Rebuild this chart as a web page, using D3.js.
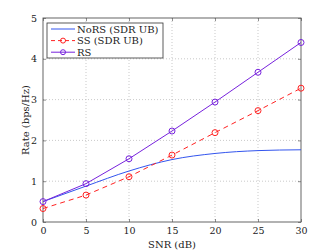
<!DOCTYPE html>
<html>
<head>
<meta charset="utf-8">
<script src="https://cdn.jsdelivr.net/npm/d3@7"></script>
<style>
  body { margin: 0; background: #fff; }
  text { font-family: "DejaVu Serif", "Liberation Serif", serif; fill: #222; }
  .grid line { stroke: #bbb; stroke-dasharray: 1,2; stroke-width: 0.8; }
</style>
</head>
<body>
<div id="chart"></div>
<script>
// SNR values (dB)
let snr = [0, 5, 10, 15, 20, 25, 30];

// Rates (bps/Hz)
let noRS = [0.50, 0.88, 1.25, 1.53, 1.68, 1.75, 1.77];
let ssRate = [0.33, 0.66, 1.11, 1.64, 2.19, 2.73, 3.28];
let rsRate = [0.50, 0.94, 1.55, 2.23, 2.94, 3.67, 4.40];

let xTicks = [0, 5, 10, 15, 20, 25, 30];
let yTicks = [0, 1, 2, 3, 4, 5];

let seriesNames = ["NoRS (SDR UB)", "SS (SDR UB)", "RS"];

let margin = { top: 18, right: 31, bottom: 28, left: 43 };
let width = 332 - margin.left - margin.right,
    height = 250 - margin.top - margin.bottom;

let svg = d3.select("#chart").append("svg")
    .attr("width", 332)
    .attr("height", 250)
    .append("g")
    .attr("transform", "translate(" + margin.left + "," + margin.top + ")");

let x = d3.scaleLinear().domain([0, 30]).range([0, width]);
let y = d3.scaleLinear().domain([0, 5]).range([height, 0]);

// grid
svg.append("g").attr("class", "grid")
    .selectAll("line").data(xTicks.slice(1, -1)).enter().append("line")
    .attr("x1", d => x(d)).attr("x2", d => x(d))
    .attr("y1", 0).attr("y2", height);
svg.append("g").attr("class", "grid")
    .selectAll("line").data(yTicks.slice(1, -1)).enter().append("line")
    .attr("x1", 0).attr("x2", width)
    .attr("y1", d => y(d)).attr("y2", d => y(d));

// axes, ticks pointing inward
let xAxis = d3.axisBottom(x).tickValues(xTicks).tickSize(-3).tickPadding(5).tickFormat(d3.format("d"));
let yAxis = d3.axisLeft(y).tickValues(yTicks).tickSize(-3).tickPadding(6).tickFormat(d3.format("d"));

svg.append("g").attr("transform", "translate(0," + height + ")").call(xAxis);
svg.append("g").call(yAxis);
svg.append("g").call(d3.axisTop(x).tickValues(xTicks).tickSize(-3).tickFormat(""));
svg.append("g").attr("transform", "translate(" + width + ",0)")
    .call(d3.axisRight(y).tickValues(yTicks).tickSize(-3).tickFormat(""));

svg.selectAll(".domain").remove();
svg.selectAll(".tick line").attr("stroke", "#444").attr("stroke-width", 0.6);
svg.selectAll(".tick text").style("font-size", "9.5px").style("font-family", "DejaVu Serif").attr("fill", "#222");

svg.append("rect")
    .attr("width", width).attr("height", height)
    .attr("fill", "none").attr("stroke", "#555").attr("stroke-width", 0.9);

// lines
let colors = ["#3355ee", "#ff2222", "#7722dd"];
let allData = [noRS, ssRate, rsRate];
let dashes = [null, "5,4", null];
let markers = [false, true, true];

let line = d3.line()
    .x((d, i) => x(snr[i]))
    .y(d => y(d));

allData.forEach(function (vals, k) {
    svg.append("path")
        .datum(vals)
        .attr("fill", "none")
        .attr("stroke", colors[k])
        .attr("stroke-width", 1)
        .attr("stroke-dasharray", dashes[k])
        .attr("d", line.curve(k === 0 ? d3.curveMonotoneX : d3.curveLinear));
    if (markers[k]) {
        svg.append("g").selectAll("circle").data(vals).enter().append("circle")
            .attr("cx", (d, i) => x(snr[i]))
            .attr("cy", d => y(d))
            .attr("r", 3)
            .attr("fill", "none")
            .attr("stroke", colors[k])
            .attr("stroke-width", 1);
    }
});

// legend
let lg = svg.append("g").attr("transform", "translate(4,5)");
lg.append("rect")
    .attr("width", 116).attr("height", 35)
    .attr("fill", "#fff").attr("stroke", "#333").attr("stroke-width", 0.8);
seriesNames.forEach(function (name, k) {
    let yy = 6 + k * 11.6;
    lg.append("line")
        .attr("x1", 4).attr("x2", 28).attr("y1", yy).attr("y2", yy)
        .attr("stroke", colors[k]).attr("stroke-width", 1)
        .attr("stroke-dasharray", k === 1 ? "4,3" : null);
    if (markers[k]) {
        lg.append("circle").attr("cx", 16).attr("cy", yy).attr("r", 2.5)
            .attr("fill", "none").attr("stroke", colors[k]);
    }
    lg.append("text")
        .attr("x", 30).attr("y", yy + 3.5)
        .style("font-size", "10px")
        .text(name);
});

// axis titles
svg.append("text")
    .attr("x", width / 2).attr("y", height + 26)
    .attr("text-anchor", "middle")
    .style("font-size", "10px")
    .text("SNR (dB)");

svg.append("text")
    .attr("transform", "rotate(-90)")
    .attr("x", -height / 2).attr("y", -14)
    .attr("text-anchor", "middle")
    .style("font-size", "10px")
    .text("Rate (bps/Hz)");
</script>
</body>
</html>
